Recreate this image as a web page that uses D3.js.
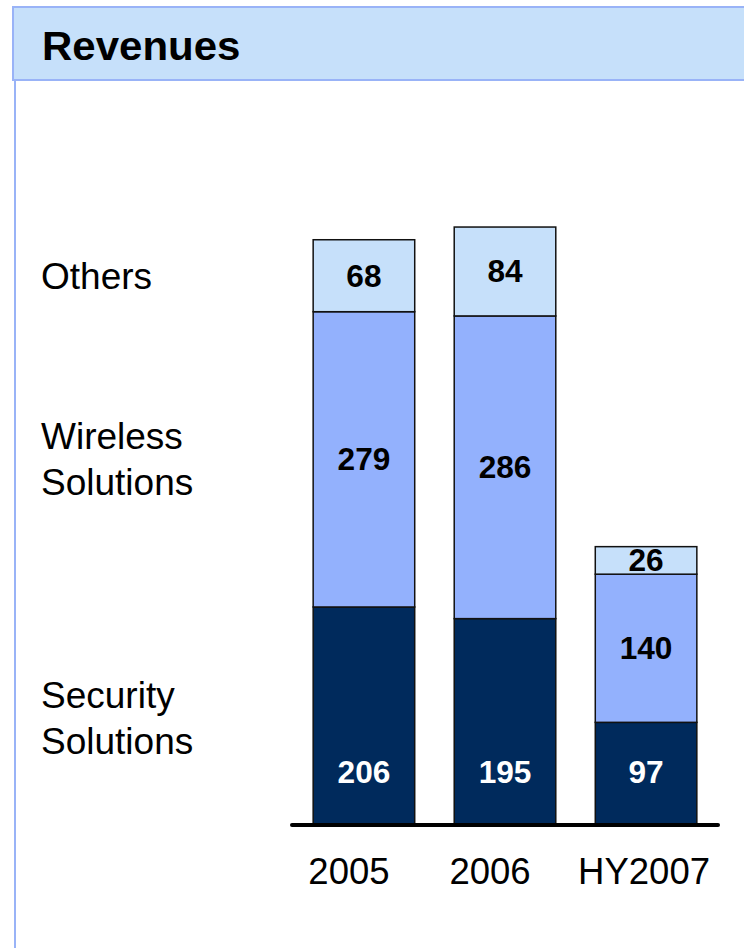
<!DOCTYPE html>
<html>
<head>
<meta charset="utf-8">
<script src="https://cdn.jsdelivr.net/npm/d3@7/dist/d3.min.js"></script>
<style>
  html, body { margin: 0; padding: 0; background: #fff; }
  svg { display: block; font-family: "Liberation Sans", Arial, Helvetica, sans-serif; }
</style>
</head>
<body>
<svg id="chart" width="744" height="948"></svg>
<script>
// Revenue breakdown by business line
const years = ["2005", "2006", "HY2007"];
const seriesNames = ["Security Solutions", "Wireless Solutions", "Others"];
const security = [206, 195, 97];
const wireless = [279, 286, 140];
const others = [68, 84, 26];
const seriesLabels = [["Security", "Solutions"], ["Wireless", "Solutions"], ["Others"]];
const title = "Revenues";

const colors = ["#002a5c", "#93b1fd", "#c6e0fa"];
const labelColors = ["#ffffff", "#000000", "#000000"];
const frameColor = "#99b3f7";

const svg = d3.select("#chart");

// header band and left frame line
svg.append("rect")
  .attr("x", 13).attr("y", 7)
  .attr("width", 760).attr("height", 73)
  .attr("fill", "#c6e0fa")
  .attr("stroke", frameColor).attr("stroke-width", 2);
svg.append("line")
  .attr("x1", 15).attr("x2", 15)
  .attr("y1", 80).attr("y2", 948)
  .attr("stroke", frameColor).attr("stroke-width", 2);

// text helper with optional horizontal widening
function wideText(g, x, y, str, size, weight, fill, sx, anchor) {
  return g.append("text")
    .attr("transform", `translate(${x},${y}) scale(${sx},1)`)
    .attr("font-size", size)
    .attr("font-weight", weight)
    .attr("fill", fill)
    .attr("text-anchor", anchor || "start")
    .text(str);
}

wideText(svg, 42, 60, title, 40, "bold", "#000", 1.05);

// scales
const x = d3.scaleBand()
  .domain(years)
  .range([292, 718])
  .paddingInner(0.28)
  .paddingOuter(0.15);

const y = d3.scaleLinear()
  .domain([0, 600])
  .range([825, 825 - 635]);

// stack the three series
const rows = years.map((yr, i) => ({
  year: yr,
  [seriesNames[0]]: security[i],
  [seriesNames[1]]: wireless[i],
  [seriesNames[2]]: others[i]
}));
const stacked = d3.stack().keys(seriesNames)(rows);

const layers = svg.append("g")
  .selectAll("g")
  .data(stacked)
  .join("g")
  .attr("fill", (d, i) => colors[i]);

layers.selectAll("rect")
  .data(d => d)
  .join("rect")
  .attr("x", d => x(d.data.year))
  .attr("width", x.bandwidth())
  .attr("y", d => y(d[1]))
  .attr("height", d => y(d[0]) - y(d[1]))
  .attr("stroke", "#111")
  .attr("stroke-width", 1.5);

// value labels: bottom series sits near the base, others centered in segment
stacked.forEach((layer, si) => {
  layer.forEach(d => {
    const v = d[1] - d[0];
    const cx = x(d.data.year) + x.bandwidth() / 2;
    const cy = si === 0 ? y(0) - 53 : (y(d[0]) + y(d[1])) / 2;
    wideText(svg, cx, cy + 11, String(v), 31, "bold", labelColors[si], 1.02, "middle");
  });
});

// baseline
svg.append("line")
  .attr("x1", 292).attr("x2", 718)
  .attr("y1", y(0)).attr("y2", y(0))
  .attr("stroke", "#000").attr("stroke-width", 4)
  .attr("stroke-linecap", "round");

// category labels under the axis
const yearNudge = [-15, -15, -2];
years.forEach((yr, i) => {
  wideText(svg, x(yr) + x.bandwidth() / 2 + yearNudge[i], 884, yr, 36.5, "normal", "#000", 1.0, "middle");
});

// series names on the left
const seriesBaselines = [289, 449, 708];
const seriesOrder = [2, 1, 0];
seriesOrder.forEach((si, k) => {
  seriesLabels[si].forEach((ln, li) => {
    wideText(svg, 41, seriesBaselines[k] + li * 46, ln, 37, "normal", "#000", 1.0);
  });
});
</script>
</body>
</html>
